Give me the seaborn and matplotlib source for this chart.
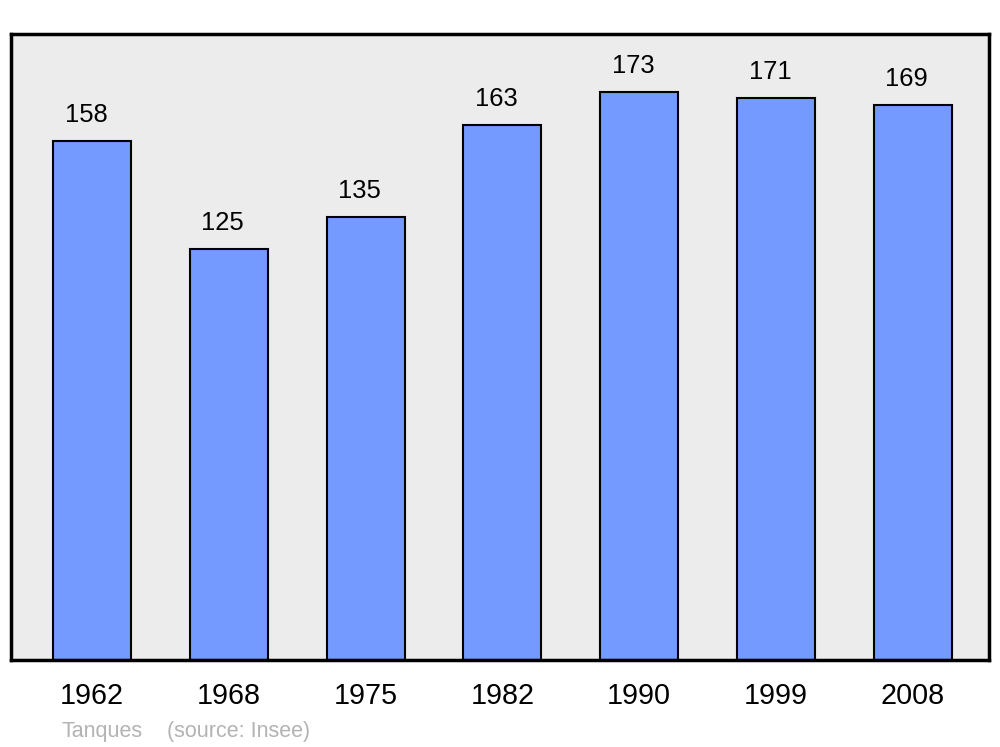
import pandas as pd
import matplotlib
matplotlib.use('Agg')
import matplotlib.pyplot as plt
import seaborn as sns

# population of Tanques by census year
years = ['1962', '1968', '1975', '1982', '1990', '1999', '2008']
population = [158, 125, 135, 163, 173, 171, 169]

df = pd.DataFrame({'year': years, 'pop': population})

sns.set_style('white')
plt.rcParams['font.family'] = ['Liberation Sans', 'DejaVu Sans']
plt.rcParams['text.color'] = 'black'
plt.rcParams['xtick.color'] = 'black'

fig = plt.figure(figsize=(10, 7.47), dpi=100)
ax = fig.add_axes([0.011, 1 - 660 / 747, 0.978, (660 - 34) / 747])

sns.barplot(data=df, x='year', y='pop', color='#7499ff', saturation=1,
            width=0.57, edgecolor='black', linewidth=1.5, ax=ax)

ax.set_facecolor('#ececec')
ax.set_xlim(-0.592, 6.558)
ax.set_ylim(0, 190.6)
ax.set_yticks([])
ax.set_xlabel('')
ax.set_ylabel('')
ax.tick_params(axis='x', length=0, labelsize=20.7, pad=16, labelcolor='black')
for s in ax.spines.values():
    s.set_visible(True)
    s.set_color('black')
    s.set_linewidth(2.5)

# value labels above the bars, slightly left of centre like the original
for i, v in enumerate(population):
    ax.annotate(str(v), (i, v), xytext=(-6, 26), textcoords='offset pixels',
                ha='center', va='center', fontsize=18.4, color='black')

fig.text(0.061, 1 - 731 / 747, 'Tanques', color='#b3b3b3', fontsize=15.5, va='center')
fig.text(0.167, 1 - 731 / 747, '(source: Insee)', color='#b3b3b3', fontsize=15.5, va='center')

fig.savefig('out.png', dpi=100)
